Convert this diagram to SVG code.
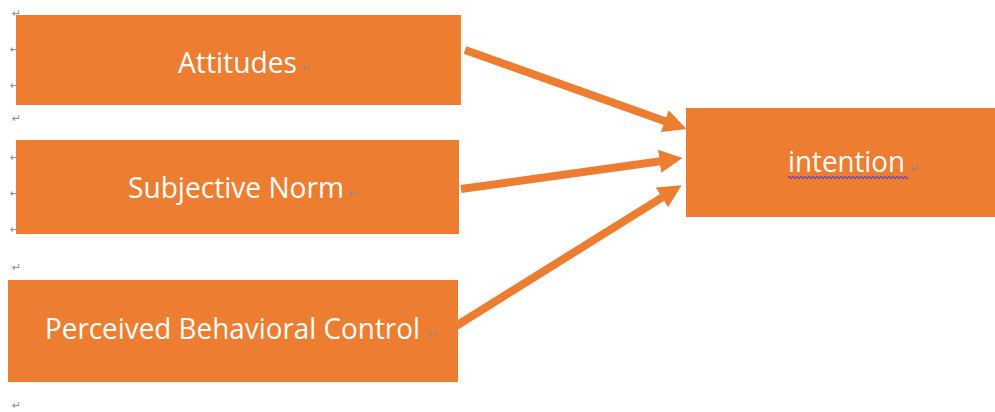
<svg xmlns="http://www.w3.org/2000/svg" width="995" height="412" viewBox="0 0 995 412">
  <style>
    .box { fill: #ED7D31; }
    .label { font-family: "Open Sans", "Noto Sans", sans-serif; font-size: 29px; fill: #FFFFFF; }
    .mark { font-family: "DejaVu Sans", sans-serif; font-size: 11px; fill: #8C8C8C; }
    .conn { stroke: #ED7D31; stroke-width: 8; fill: none; marker-end: url(#head); }
  </style>
  <defs>
    <marker id="head" viewBox="0 0 10 10" refX="5" refY="5" markerUnits="strokeWidth" markerWidth="2.9" markerHeight="2.9" orient="auto">
      <path d="M0,0 L10,5 L0,10 Z" fill="#ED7D31"/>
    </marker>
  </defs>
  <rect width="995" height="412" fill="#FFFFFF"/>

  <!-- paragraph marks in the left margin (partly covered by the boxes) -->
  <g id="margin-marks">
    <text class="mark" x="12" y="17">↵</text>
    <text class="mark" x="10" y="53">↵</text>
    <text class="mark" x="10" y="89">↵</text>
    <text class="mark" x="12" y="122">↵</text>
    <text class="mark" x="10" y="161">↵</text>
    <text class="mark" x="10" y="197">↵</text>
    <text class="mark" x="10" y="233">↵</text>
    <text class="mark" x="12" y="271">↵</text>
    <text class="mark" x="12" y="409">↵</text>
  </g>

  <g id="attitudes">
    <rect class="box" x="16" y="15" width="445" height="90"/>
    <text class="label" x="178" y="73" textLength="119" lengthAdjust="spacingAndGlyphs">Attitudes</text>
    <text class="mark" x="302" y="71">↵</text>
  </g>

  <g id="subjective-norm">
    <rect class="box" x="16" y="140" width="443" height="94"/>
    <text class="label" x="128" y="198" textLength="216" lengthAdjust="spacingAndGlyphs">Subjective Norm</text>
    <text class="mark" x="349" y="197">↵</text>
  </g>

  <g id="perceived-behavioral-control">
    <rect class="box" x="8" y="280" width="450" height="102"/>
    <text class="label" x="45" y="339" textLength="375" lengthAdjust="spacingAndGlyphs">Perceived Behavioral Control</text>
    <text class="mark" x="428" y="339">↵</text>
  </g>

  <g id="intention">
    <rect class="box" x="686" y="108" width="309" height="109"/>
    <text class="label" x="788" y="172" textLength="117" lengthAdjust="spacingAndGlyphs">intention</text>
    <path d="M788,177.5 q1,-2 2,0 t2,0 t2,0 t2,0 t2,0 t2,0 t2,0 t2,0 t2,0 t2,0 t2,0 t2,0 t2,0 t2,0 t2,0 t2,0 t2,0 t2,0 t2,0 t2,0 t2,0 t2,0 t2,0 t2,0 t2,0 t2,0 t2,0 t2,0 t2,0 t2,0 t2,0 t2,0 t2,0 t2,0 t2,0 t2,0 t2,0 t2,0 t2,0 t2,0 t2,0 t2,0 t2,0 t2,0 t2,0 t2,0 t2,0 t2,0 t2,0 t2,0 t2,0 t2,0 t2,0 t2,0 t2,0 t2,0 t2,0 t2,0 t2,0 t2,0" fill="none" stroke="#5B3FD0" stroke-width="1.1"/>
    <text class="mark" x="910" y="172">↵</text>
  </g>

  <g id="connectors">
    <line class="conn" x1="465" y1="50" x2="675.7" y2="125"/>
    <line class="conn" x1="461" y1="189" x2="671.1" y2="159.7"/>
    <line class="conn" x1="456" y1="326" x2="671.8" y2="191.3"/>
  </g>
</svg>
